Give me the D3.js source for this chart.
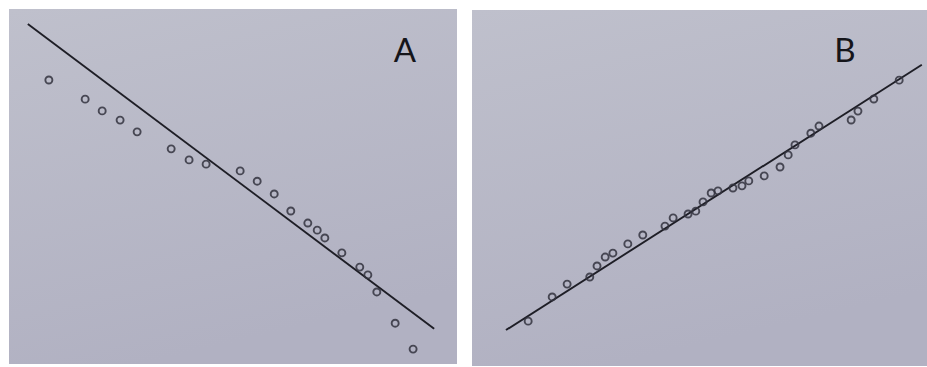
<!DOCTYPE html>
<html>
<head>
<meta charset="utf-8">
<script src="https://cdn.jsdelivr.net/npm/d3@7"></script>
<style>
  body { margin: 0; background: #fff; }
</style>
</head>
<body>
<div id="chart"></div>
<script>
// panel A: sample vs theoretical (0-100 units)
const ax = [8.9, 17.0, 20.8, 24.8, 28.6, 36.2, 40.2, 44.0, 51.6, 55.4, 59.2, 62.9, 66.7, 68.8, 70.5, 74.3, 78.3, 80.1, 82.1, 86.2, 90.2];
const ay = [80.0, 74.6, 71.3, 68.7, 65.4, 60.6, 57.5, 56.3, 54.4, 51.5, 47.9, 43.1, 39.7, 37.7, 35.5, 31.3, 27.3, 25.1, 20.3, 11.5, 4.2];
const aLine = [[4.2, 95.8], [94.9, 9.9]];

// panel B
const bx = [12.4, 17.7, 21.0, 26.0, 27.6, 29.4, 31.1, 34.4, 37.7, 42.6, 44.4, 47.7, 49.4, 51.0, 52.8, 54.3, 57.6, 59.6, 61.1, 64.5, 68.0, 69.8, 71.3, 74.8, 76.6, 83.7, 85.2, 88.7, 94.3];
const by = [12.6, 19.4, 23.0, 25.0, 28.1, 30.6, 31.7, 34.3, 36.8, 39.3, 41.6, 42.7, 43.5, 46.1, 48.6, 49.2, 50.0, 50.6, 52.0, 53.4, 55.9, 59.3, 62.1, 65.4, 67.4, 69.1, 71.6, 75.0, 80.3];
const bLine = [[7.5, 10.1], [99.3, 84.6]];

const W = 927, H = 367;

const svg = d3.select('#chart').append('svg')
  .attr('width', W)
  .attr('height', H);

const defs = svg.append('defs');
const grad = defs.append('linearGradient')
  .attr('id', 'paper')
  .attr('x1', 0).attr('y1', 0).attr('x2', 0.3).attr('y2', 1);
grad.append('stop').attr('offset', '0%').attr('stop-color', '#bfc0cc');
grad.append('stop').attr('offset', '100%').attr('stop-color', '#b1b1c2');

const panels = [
  { label: 'A', xs: ax, ys: ay, fit: aLine, x0: 9, x1: 457, y0: 9, y1: 364, lx: 405 },
  { label: 'B', xs: bx, ys: by, fit: bLine, x0: 472, x1: 925, y0: 10, y1: 366, lx: 845 }
];

panels.forEach(p => {
  const g = svg.append('g');

  g.append('rect')
    .attr('x', p.x0)
    .attr('y', p.y0)
    .attr('width', (p.label === 'B' ? W : p.x1) - p.x0)
    .attr('height', p.y1 - p.y0)
    .attr('fill', 'url(#paper)');

  const x = d3.scaleLinear().domain([0, 100]).range([p.x0, p.x1]);
  const y = d3.scaleLinear().domain([0, 100]).range([p.y1, p.y0]);

  g.append('path')
    .attr('d', d3.line().x(d => x(d[0])).y(d => y(d[1]))(p.fit))
    .attr('fill', 'none')
    .attr('stroke', '#1e1e26')
    .attr('stroke-width', 1.9);

  const pts = p.xs.map((v, i) => [v, p.ys[i]]);
  g.selectAll('circle')
    .data(pts)
    .enter().append('circle')
    .attr('cx', d => x(d[0]))
    .attr('cy', d => y(d[1]))
    .attr('r', 3.5)
    .attr('fill', 'none')
    .attr('stroke', '#33333e')
    .attr('stroke-opacity', 0.85)
    .attr('stroke-width', 1.9);

  g.append('text')
    .attr('x', p.lx)
    .attr('y', 62)
    .attr('text-anchor', 'middle')
    .style('font-family', 'Lato, "Open Sans", sans-serif')
    .style('font-size', '33px')
    .style('fill', '#15151a')
    .text(p.label);
});
</script>
</body>
</html>
